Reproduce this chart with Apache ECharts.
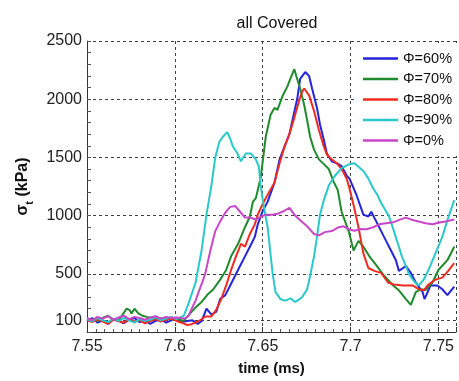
<!DOCTYPE html>
<html><head><meta charset="utf-8">
<script src="https://cdn.jsdelivr.net/npm/echarts@6/dist/echarts.min.js"></script>
<style>html,body{margin:0;padding:0;background:#fff}#c{width:459px;height:381px}</style>
</head><body><div id="c"></div>
<script>
const seriesNames = ['Φ=60%','Φ=70%','Φ=80%','Φ=90%','Φ=0%'];
const seriesColors = ['#2424d8','#1f8a2e','#f02a20','#2ac8c8','#c846c8'];
const xTickLabels = ['7.55','7.6','7.65','7.7','7.75'];
const yTickLabels = [100,500,1000,1500,2000,2500];

const phi60 = [[7.550,90],[7.553,120],[7.556,80],[7.559,100],[7.562,70],[7.565,110],[7.568,95],[7.571,75],[7.574,105],[7.577,120],[7.580,85],[7.583,100],[7.586,70],[7.589,95],[7.592,110],[7.595,80],[7.598,100],[7.601,115],[7.604,85],[7.607,95],[7.610,100],[7.613,70],[7.6152,92],[7.618,200],[7.6208,150],[7.6236,175],[7.6258,283],[7.6287,317],[7.6315,400],[7.6343,483],[7.6371,567],[7.6399,650],[7.6427,733],[7.6455,817],[7.6472,925],[7.6500,1040],[7.6528,1120],[7.6567,1283],[7.6596,1483],[7.6624,1592],[7.6652,1700],[7.6669,1817],[7.6697,2008],[7.6713,2175],[7.6742,2233],[7.6764,2200],[7.6781,2092],[7.6809,1925],[7.6826,1783],[7.6848,1650],[7.6865,1533],[7.6893,1467],[7.6921,1450],[7.6949,1425],[7.6978,1342],[7.6994,1317],[7.7034,1175],[7.7073,1008],[7.7101,992],[7.7118,1033],[7.7146,950],[7.7174,867],[7.7202,783],[7.7230,700],[7.7258,617],[7.7275,525],[7.7315,567],[7.7343,508],[7.7371,425],[7.7410,342],[7.7421,283],[7.7455,400],[7.7494,400],[7.7522,367],[7.7551,317],[7.7590,390]];

const phi70 = [[7.550,100],[7.553,110],[7.556,95],[7.559,120],[7.562,140],[7.565,105],[7.568,100],[7.5725,200],[7.5742,190],[7.5753,158],[7.5770,200],[7.5792,160],[7.5815,140],[7.584,130],[7.587,120],[7.590,125],[7.593,115],[7.596,120],[7.599,105],[7.602,110],[7.605,95],[7.6096,175],[7.6124,220],[7.6152,258],[7.6185,320],[7.6219,367],[7.6258,450],[7.6292,533],[7.6320,650],[7.6360,758],[7.6399,900],[7.6427,992],[7.6444,1117],[7.6461,1150],[7.6489,1330],[7.6517,1675],[7.6545,1867],[7.6567,1925],[7.6584,1908],[7.6612,2025],[7.6640,2108],[7.6657,2175],[7.6680,2258],[7.6691,2200],[7.6713,2092],[7.6736,1950],[7.6753,1817],[7.6770,1675],[7.6792,1567],[7.6820,1483],[7.6848,1442],[7.6876,1400],[7.6904,1290],[7.6927,1220],[7.6949,1033],[7.6989,867],[7.7017,700],[7.7045,783],[7.7073,733],[7.7107,650],[7.7146,575],[7.7191,483],[7.7242,400],[7.7275,358],[7.7315,283],[7.7343,233],[7.7371,342],[7.7399,367],[7.7427,360],[7.7466,425],[7.7500,533],[7.7551,617],[7.7590,733]];

const phi80 = [[7.550,100],[7.553,85],[7.556,110],[7.559,90],[7.562,70],[7.565,105],[7.568,95],[7.571,80],[7.574,110],[7.577,90],[7.580,100],[7.583,75],[7.586,95],[7.589,110],[7.592,90],[7.595,105],[7.598,115],[7.601,95],[7.604,80],[7.607,60],[7.6096,67],[7.6135,92],[7.6174,133],[7.6208,133],[7.6236,192],[7.6264,283],[7.6292,400],[7.6320,533],[7.6348,650],[7.6376,758],[7.6399,733],[7.6427,842],[7.6455,925],[7.6472,1008],[7.6500,1100],[7.6528,1180],[7.6567,1283],[7.6596,1450],[7.6624,1592],[7.6652,1700],[7.6680,1842],[7.6708,1992],[7.6725,2067],[7.6736,2092],[7.6764,2033],[7.6792,1900],[7.6820,1733],[7.6848,1592],[7.6865,1525],[7.6893,1483],[7.6921,1450],[7.6949,1400],[7.6978,1317],[7.6994,1233],[7.7017,1092],[7.7045,900],[7.7073,675],[7.7101,550],[7.7135,525],[7.7174,508],[7.7213,425],[7.7247,408],[7.7298,400],[7.7354,400],[7.7388,367],[7.7416,358],[7.7444,408],[7.7483,450],[7.7522,467],[7.7556,525],[7.7590,592]];

const phi90 = [[7.550,110],[7.553,90],[7.556,120],[7.559,100],[7.562,85],[7.565,115],[7.568,95],[7.571,120],[7.574,100],[7.577,80],[7.580,110],[7.583,95],[7.586,105],[7.589,125],[7.592,100],[7.595,115],[7.598,130],[7.601,110],[7.6051,140],[7.6079,250],[7.6118,425],[7.6152,700],[7.6180,1008],[7.6208,1258],[7.6230,1500],[7.6253,1633],[7.6275,1680],[7.6298,1717],[7.6315,1660],[7.6331,1592],[7.6354,1540],[7.6376,1467],[7.6404,1533],[7.6433,1533],[7.6461,1483],[7.6478,1420],[7.6489,1250],[7.6506,1080],[7.6528,900],[7.6556,508],[7.6573,342],[7.6601,283],[7.6624,270],[7.6640,275],[7.6657,290],[7.6685,258],[7.6708,280],[7.6725,300],[7.6753,367],[7.6770,483],[7.6792,650],[7.6809,817],[7.6826,1008],[7.6848,1133],[7.6876,1258],[7.6910,1340],[7.6949,1408],[7.6994,1442],[7.7022,1450],[7.7045,1420],[7.7073,1383],[7.7101,1320],[7.7129,1233],[7.7152,1180],[7.7174,1108],[7.7197,1050],[7.7219,992],[7.7247,867],[7.7275,733],[7.7292,650],[7.7315,567],[7.7331,500],[7.7354,450],[7.7371,420],[7.7388,400],[7.7416,450],[7.7444,533],[7.7483,675],[7.7522,817],[7.7556,983],[7.7590,1133]];

const phi0 = [[7.550,120],[7.553,100],[7.556,130],[7.559,115],[7.562,135],[7.565,105],[7.568,125],[7.571,140],[7.574,110],[7.577,130],[7.580,120],[7.583,105],[7.586,125],[7.589,135],[7.592,115],[7.595,130],[7.598,120],[7.601,125],[7.6056,115],[7.6079,140],[7.6096,200],[7.6118,270],[7.6135,342],[7.6157,430],[7.6174,508],[7.6202,700],[7.6230,867],[7.6258,950],[7.6287,1025],[7.6315,1075],[7.6343,1083],[7.6371,1033],[7.6399,983],[7.6427,983],[7.6461,967],[7.6489,990],[7.6517,1008],[7.6556,1008],[7.6584,1015],[7.6612,1033],[7.6652,1067],[7.6680,1008],[7.6713,960],[7.6753,908],[7.6792,842],[7.6820,830],[7.6854,858],[7.6893,867],[7.6933,900],[7.6961,908],[7.6989,883],[7.7022,870],[7.7056,885],[7.7090,883],[7.7129,900],[7.7163,925],[7.7202,935],[7.7242,942],[7.7281,965],[7.7315,983],[7.7348,965],[7.7388,950],[7.7427,935],[7.7466,925],[7.7506,940],[7.7539,950],[7.7590,967]];

const seriesData = [phi60, phi70, phi80, phi90, phi0];

const FONT = "'Liberation Sans', Arial, sans-serif";
const GRID_COLOR = '#404040';
const yMin = 0, yMax = 2500, yStep = 100;
const ySplitColors = [];
for (let v = yMin; v <= yMax; v += yStep) ySplitColors.push(yTickLabels.includes(v) ? GRID_COLOR : 'rgba(0,0,0,0)');

const chart = echarts.init(document.getElementById('c'), null, {renderer: 'canvas'});
chart.setOption({
  animation: false,
  backgroundColor: '#fff',
  title: {
    text: 'all Covered', left: 272, top: 11, textAlign: 'center',
    textStyle: {fontFamily: FONT, fontSize: 16, fontWeight: 'normal', color: '#111'}
  },
  grid: {left: 87, top: 41, width: 374, height: 300, containLabel: false},
  legend: {
    data: seriesNames, orient: 'vertical', left: 356, top: 43,
    backgroundColor: '#fff', padding: [8, 10, 8, 7],
    icon: 'path://M0 0H35V2.4H0Z',
    itemWidth: 35, itemHeight: 14, itemGap: 5.5,
    textStyle: {fontFamily: FONT, fontSize: 14.5, color: '#111'}
  },
  xAxis: {
    type: 'value', min: 7.55, max: 7.76, interval: 0.05,
    name: 'time (ms)', nameLocation: 'middle', nameGap: 29,
    nameTextStyle: {fontFamily: FONT, fontSize: 15, fontWeight: 'bold', color: '#111'},
    axisLine: {show: true, onZero: false, lineStyle: {color: '#333', width: 1}},
    axisTick: {show: true, inside: true, length: 5, lineStyle: {color: '#333'}},
    minorTick: {show: true, splitNumber: 10, length: 3, lineStyle: {color: '#555'}},
    axisLabel: {
      fontFamily: FONT, fontSize: 16, color: '#222', margin: 7,
      formatter: v => { const s = String(Math.round(v * 1000) / 1000); return xTickLabels.includes(s) ? s : ''; }
    },
    splitLine: {show: true, lineStyle: {color: GRID_COLOR, type: [3, 3], width: 1}}
  },
  yAxis: {
    type: 'value', min: yMin, max: yMax, interval: yStep,
    name: '{s|σ}{sub|t}{s| (kPa)}', nameLocation: 'middle', nameGap: 47,
    nameTextStyle: {
      fontFamily: FONT, fontWeight: 'bold', color: '#111',
      rich: {
        s: {fontFamily: FONT, fontSize: 16, fontWeight: 'bold', color: '#111', lineHeight: 26},
        sub: {fontFamily: FONT, fontSize: 11, fontWeight: 'bold', color: '#111', lineHeight: 26, verticalAlign: 'bottom'}
      }
    },
    axisLine: {show: true, onZero: false, lineStyle: {color: '#333', width: 1}},
    axisTick: {show: true, inside: true, length: 4, lineStyle: {color: '#555'}},
    axisLabel: {
      fontFamily: FONT, fontSize: 16, color: '#222', margin: 5,
      formatter: v => yTickLabels.includes(Math.round(v)) ? String(Math.round(v)) : ''
    },
    splitLine: {show: true, showMinLine: true, showMaxLine: true, lineStyle: {color: ySplitColors, type: [3, 3], width: 1}}
  },
  series: seriesNames.map((name, i) => ({
    name, type: 'line', data: seriesData[i], showSymbol: false, symbol: 'none',
    color: seriesColors[i], lineStyle: {width: 2, color: seriesColors[i]}, clip: true
  }))
});
</script>
</body></html>
